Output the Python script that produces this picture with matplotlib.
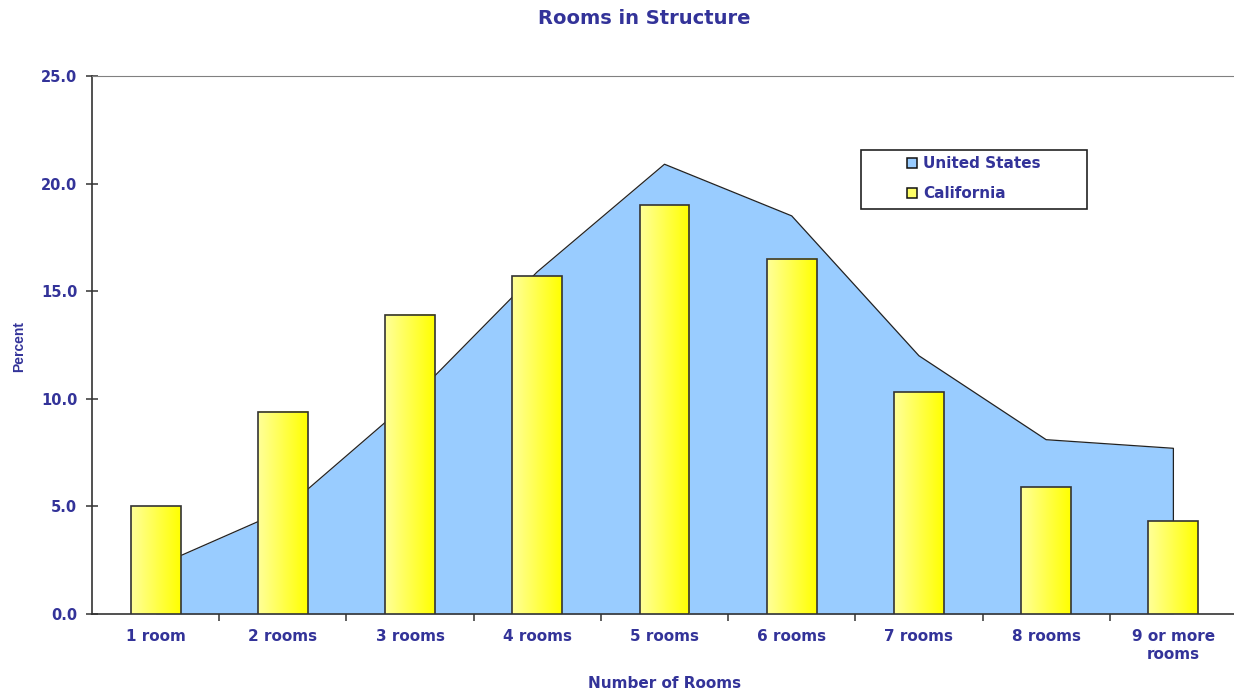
import numpy as np
import matplotlib.pyplot as plt
from matplotlib.patches import Rectangle
from matplotlib.colors import LinearSegmentedColormap

# Rooms in Structure: US share (area) vs California share (bars)
categories = ["1 room", "2 rooms", "3 rooms", "4 rooms", "5 rooms",
              "6 rooms", "7 rooms", "8 rooms", "9 or more\nrooms"]
us_pct = [2.2, 4.8, 9.9, 15.9, 20.9, 18.5, 12.0, 8.1, 7.7]
ca_pct = [5.0, 9.4, 13.9, 15.7, 19.0, 16.5, 10.3, 5.9, 4.3]
y_ticks = [0, 5, 10, 15, 20, 25]

TXT = "#333399"
W, H = 1234, 693

fig = plt.figure(figsize=(W / 100, H / 100), dpi=100)
ax = fig.add_axes([92 / W, 1 - 614 / H, (1237 - 92) / W, (614 - 76) / H])

x = np.arange(len(categories))

# United States area
ax.fill_between(x, us_pct, 0, color="#99CCFF", lw=0, zorder=1)
ax.plot(np.r_[x[0], x, x[-1]], np.r_[0, us_pct, 0], color="#222222", lw=0.9, zorder=2)

# California bars with a left-to-right yellow gradient
bw = 0.393
grad = np.linspace(0, 1, 256).reshape(1, -1)
ycmap = LinearSegmentedColormap.from_list("yel", ["#FFFF99", "#FFFF00"])
for xi, h in zip(x, ca_pct):
    ax.imshow(grad, cmap=ycmap, aspect="auto", zorder=3,
              extent=(xi - bw / 2, xi + bw / 2, 0, h), interpolation="bilinear")
    ax.add_patch(Rectangle((xi - bw / 2, 0), bw, h, fill=False,
                           edgecolor="#333333", lw=1.2, zorder=4))

ax.set_xlim(-0.5, len(categories) - 0.5)
ax.set_ylim(0, 25)

# spines
ax.spines["right"].set_visible(False)
ax.spines["top"].set_color("#808080")
ax.spines["left"].set_color("#333333")
ax.spines["bottom"].set_color("#333333")
ax.spines["left"].set_linewidth(1.2)
ax.spines["bottom"].set_linewidth(1.2)

# y axis
ax.set_yticks(y_ticks)
ax.set_yticklabels([f"{v:.1f}" for v in y_ticks])
ax.tick_params(axis="y", direction="inout", length=9, width=1.1, color="#333333",
               pad=6, labelsize=10.5, labelcolor=TXT)

# x axis: labels at category centres, tick marks between categories
ax.set_xticks(x)
ax.set_xticklabels(categories)
ax.set_xticks(np.arange(0.5, len(categories) - 1, 1), minor=True)
ax.tick_params(axis="x", which="major", length=0, pad=11, labelsize=11, labelcolor=TXT)
ax.tick_params(axis="x", which="minor", direction="out", length=5, width=1.1, color="#333333")
for lab in ax.get_xticklabels() + ax.get_yticklabels():
    lab.set_fontweight("bold")
    lab.set_family("DejaVu Sans")
for lab in ax.get_xticklabels():
    lab.set_linespacing(1.2)
    lab.set_verticalalignment("top")

fig.text(644 / W, 1 - 18 / H, "Rooms in Structure", ha="center", va="center",
         fontsize=14, fontweight="bold", color=TXT, family="DejaVu Sans")
fig.text(665 / W, 1 - 684 / H, "Number of Rooms", ha="center", va="center",
         fontsize=11, fontweight="bold", color=TXT, family="DejaVu Sans")
fig.text(19 / W, 1 - 347 / H, "Percent", ha="center", va="center", rotation=90,
         fontsize=10, fontweight="bold", color=TXT, family="Liberation Sans")

# legend box
fig.add_artist(Rectangle((861 / W, 1 - 209 / H), 226 / W, 59 / H, transform=fig.transFigure,
                         facecolor="white", edgecolor="#222222", lw=1.2, zorder=5))
for i, (name, col) in enumerate([("United States", "#99CCFF"), ("California", "#FFFF66")]):
    yc = 163 + 30 * i
    fig.add_artist(Rectangle((907 / W, 1 - (yc + 5) / H), 10 / W, 10 / H,
                             transform=fig.transFigure, facecolor=col,
                             edgecolor="#111111", lw=1.1, zorder=6))
    fig.text(923 / W, 1 - yc / H, name, ha="left", va="center", fontsize=11,
             fontweight="bold", color=TXT, family="DejaVu Sans", zorder=7)

fig.savefig("out.png", dpi=100)
